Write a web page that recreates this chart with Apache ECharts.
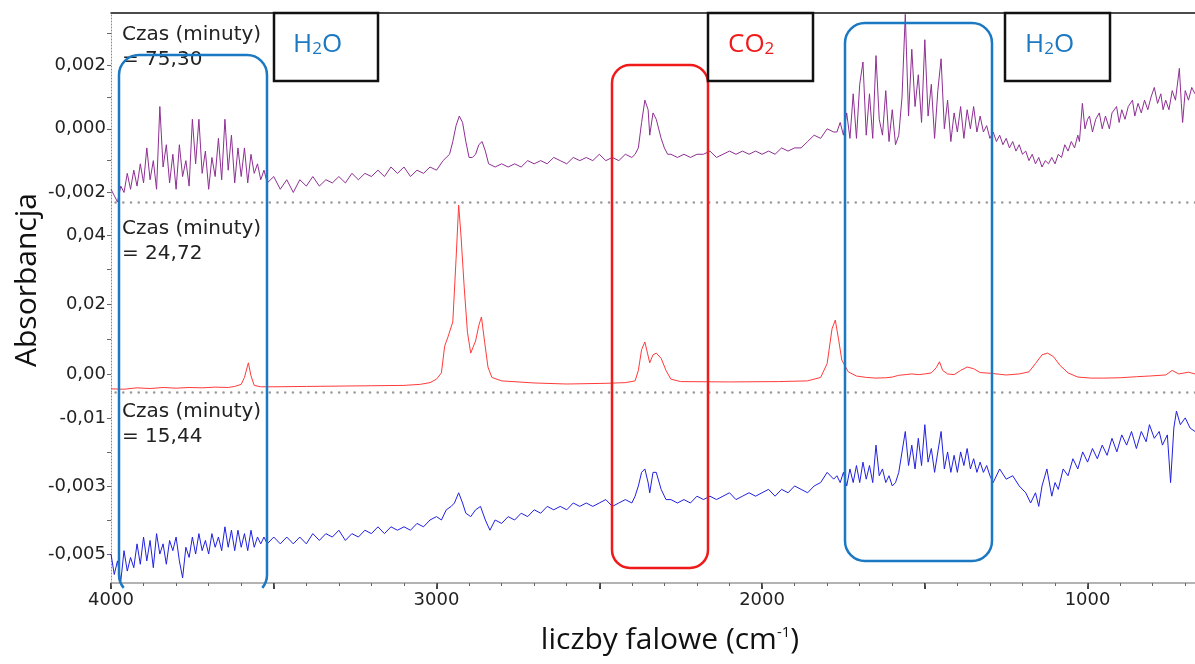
<!DOCTYPE html>
<html><head><meta charset="utf-8">
<script src="https://cdn.jsdelivr.net/npm/echarts@6/dist/echarts.min.js"></script>
<style>html,body{margin:0;padding:0;background:#fff}#c{width:1195px;height:664px}</style>
</head><body><div id="c"></div>
<script>
// ---- data: [wavenumber (cm-1), absorbance] ----
const purple7530 = [
[4000,-0.0019],[3990,-0.0021],[3980,-0.0023],[3970,-0.0018],[3960,-0.0020],[3950,-0.0014],[3940,-0.0019],[3930,-0.0013],[3920,-0.0018],[3910,-0.0011],
[3900,-0.0017],[3890,-0.0006],[3880,-0.0016],[3870,-0.0010],[3860,-0.0019],[3850,0.0007],[3840,-0.0012],[3830,-0.0005],[3820,-0.0017],[3810,-0.0008],
[3800,-0.0019],[3790,-0.0005],[3780,-0.0015],[3770,-0.0010],[3760,-0.0018],[3750,0.0003],[3740,-0.0011],[3730,0.0003],[3720,-0.0014],[3710,-0.0007],
[3700,-0.0019],[3690,-0.0009],[3680,-0.0015],[3670,-0.0003],[3660,-0.0016],[3650,0.0003],[3640,-0.0013],[3630,-0.0002],[3620,-0.0017],[3610,-0.0006],
[3600,-0.0015],[3590,-0.0006],[3580,-0.0017],[3570,-0.0008],[3560,-0.0014],[3550,-0.0011],[3540,-0.0016],[3530,-0.0013],[3520,-0.0017],
[3500,-0.0015],[3480,-0.0019],[3460,-0.0016],[3440,-0.0020],[3420,-0.0016],[3400,-0.0018],[3380,-0.0015],[3360,-0.0018],[3340,-0.0016],[3320,-0.0017],
[3300,-0.0015],[3280,-0.0017],[3260,-0.0014],[3240,-0.0016],[3220,-0.0014],[3200,-0.0015],[3180,-0.0013],[3160,-0.0015],[3140,-0.0012],[3120,-0.0014],
[3100,-0.0012],[3080,-0.0015],[3060,-0.0013],[3040,-0.0014],[3020,-0.0012],[3000,-0.0013],[2980,-0.0010],[2960,-0.0008],[2950,-0.0004],[2940,0.0001],
[2930,0.0004],[2920,0.0002],[2910,-0.0004],[2900,-0.0009],[2890,-0.0009],[2880,-0.0008],[2870,-0.0005],[2860,-0.0004],[2850,-0.0007],[2840,-0.0011],
[2820,-0.0012],[2800,-0.0011],[2780,-0.0012],[2760,-0.0011],[2740,-0.0012],[2720,-0.0010],[2700,-0.0011],[2680,-0.0010],[2660,-0.0011],[2640,-0.0009],
[2620,-0.0010],[2600,-0.0011],[2580,-0.0009],[2560,-0.0010],[2540,-0.0009],[2520,-0.0010],[2500,-0.0008],[2480,-0.0010],[2460,-0.0009],[2440,-0.0010],
[2420,-0.0008],[2400,-0.0009],[2390,-0.0008],[2380,-0.0006],[2370,0.0002],[2360,0.0009],[2350,0.0006],[2345,-0.0002],[2335,0.0005],[2325,0.0003],
[2310,-0.0003],[2300,-0.0006],[2290,-0.0008],[2280,-0.0008],[2260,-0.0009],[2240,-0.0008],[2220,-0.0009],[2200,-0.0008],[2180,-0.0008],[2160,-0.0007],
[2140,-0.0009],[2120,-0.0008],[2100,-0.0007],[2080,-0.0008],[2060,-0.0007],[2040,-0.0008],[2020,-0.0007],[2000,-0.0008],[1980,-0.0007],[1960,-0.0008],
[1940,-0.0006],[1920,-0.0007],[1900,-0.0006],[1880,-0.0006],[1860,-0.0004],[1840,-0.0002],[1820,-0.0003],[1800,0.0000],[1780,-0.0001],
[1770,-0.0001],[1760,0.0002],[1750,-0.0002],[1740,0.0005],[1730,-0.0003],[1720,0.0011],[1710,-0.0003],[1700,0.0014],[1690,0.0021],[1680,-0.0002],
[1670,0.0011],[1660,-0.0003],[1650,0.0023],[1640,0.0003],[1630,-0.0002],[1620,0.0012],[1610,-0.0004],[1600,0.0006],[1590,-0.0005],[1580,-0.0002],
[1570,0.0010],[1560,0.0036],[1550,0.0004],[1540,0.0025],[1530,0.0007],[1520,0.0017],[1510,0.0002],[1500,0.0028],[1490,0.0004],[1480,0.0014],
[1470,-0.0003],[1460,0.0012],[1450,0.0022],[1440,0.0000],[1430,0.0009],[1420,-0.0004],[1410,0.0005],[1400,-0.0001],[1390,0.0007],[1380,-0.0003],
[1370,0.0006],[1360,0.0000],[1350,0.0007],[1340,-0.0001],[1330,0.0004],[1320,-0.0001],[1310,0.0001],[1300,-0.0003],
[1290,-0.0001],[1280,-0.0004],[1270,-0.0002],[1260,-0.0005],[1250,-0.0003],[1240,-0.0006],[1230,-0.0004],[1220,-0.0007],[1210,-0.0005],[1200,-0.0008],
[1190,-0.0007],[1180,-0.0010],[1170,-0.0008],[1160,-0.0011],[1150,-0.0009],[1140,-0.0012],[1130,-0.0010],[1120,-0.0011],[1110,-0.0009],[1100,-0.0011],
[1090,-0.0008],[1080,-0.0009],[1070,-0.0005],[1060,-0.0007],[1050,-0.0004],[1040,-0.0006],[1030,-0.0002],[1025,-0.0004],[1016,0.0008],[1008,0.0000],
[1000,0.0003],[994,0.0004],[985,-0.0001],[975,0.0003],[964,0.0005],[955,0.0000],[945,0.0004],[933,0.0000],[925,0.0005],[911,0.0007],
[903,0.0002],[895,0.0006],[885,0.0003],[875,0.0007],[862,0.0009],[855,0.0004],[845,0.0008],[835,0.0005],[825,0.0009],[815,0.0006],
[805,0.0010],[795,0.0013],[785,0.0008],[775,0.0011],[768,0.0006],[760,0.0009],[750,0.0006],[740,0.0012],[730,0.0009],[718,0.0019],
[712,0.0008],[708,0.0002],[700,0.0012],[690,0.0009],[680,0.0013],[670,0.0011]
];
const red2472 = [
[4000,-0.0043],[3960,-0.0044],[3920,-0.0040],[3880,-0.0042],[3840,-0.0039],[3800,-0.0041],[3760,-0.0039],[3720,-0.0040],[3680,-0.0038],[3640,-0.0039],
[3620,-0.0036],[3600,-0.0030],[3590,-0.0010],[3578,0.0032],[3570,-0.0005],[3560,-0.0033],[3540,-0.0037],[3500,-0.0037],[3400,-0.0036],[3300,-0.0035],
[3200,-0.0034],[3100,-0.0033],[3050,-0.0030],[3020,-0.0025],[3000,-0.0015],[2985,0.0003],[2975,0.0080],[2965,0.0106],[2950,0.0150],[2940,0.0330],
[2932,0.0486],[2925,0.0400],[2915,0.0250],[2905,0.0120],[2895,0.0060],[2880,0.0095],[2870,0.0140],[2862,0.0164],[2852,0.0090],[2842,0.0020],
[2830,-0.0010],[2800,-0.0020],[2700,-0.0026],[2600,-0.0029],[2480,-0.0027],[2420,-0.0025],[2390,-0.0020],[2380,0.0010],[2370,0.0070],[2360,0.0092],
[2352,0.0060],[2345,0.0032],[2335,0.0055],[2325,0.0060],[2310,0.0045],[2295,0.0010],[2280,-0.0015],[2250,-0.0022],[2100,-0.0023],[1950,-0.0022],
[1860,-0.0020],[1820,-0.0010],[1800,0.0030],[1785,0.0130],[1775,0.0155],[1765,0.0100],[1755,0.0040],[1735,0.0006],[1710,-0.0006],[1680,-0.0010],
[1650,-0.0012],[1620,-0.0011],[1600,-0.0009],[1580,-0.0004],[1560,-0.0002],[1540,0.0000],[1520,-0.0002],[1500,0.0000],[1480,0.0003],[1465,0.0018],
[1455,0.0035],[1445,0.0010],[1430,0.0000],[1410,-0.0002],[1390,0.0010],[1370,0.0020],[1350,0.0015],[1330,0.0004],[1300,0.0002],[1250,-0.0003],
[1210,0.0000],[1180,0.0006],[1160,0.0030],[1140,0.0055],[1123,0.0060],[1105,0.0050],[1085,0.0025],[1060,0.0003],[1030,-0.0009],[990,-0.0012],
[950,-0.0012],[900,-0.0011],[850,-0.0008],[810,-0.0006],[760,-0.0003],[740,0.0010],[720,0.0000],[690,0.0005],[670,0.0000]
];
const blue1544 = [
[4000,-0.0050],[3990,-0.0056],[3980,-0.0052],[3970,-0.0058],[3960,-0.0049],[3950,-0.0055],[3940,-0.0051],[3930,-0.0054],[3920,-0.0047],[3910,-0.0053],
[3900,-0.0045],[3890,-0.0052],[3880,-0.0046],[3870,-0.0054],[3860,-0.0044],[3850,-0.0050],[3840,-0.0047],[3830,-0.0053],[3820,-0.0046],[3810,-0.0049],
[3800,-0.0045],[3790,-0.0052],[3780,-0.0057],[3770,-0.0048],[3760,-0.0051],[3750,-0.0045],[3740,-0.0050],[3730,-0.0044],[3720,-0.0049],[3710,-0.0046],
[3700,-0.0050],[3690,-0.0044],[3680,-0.0048],[3670,-0.0045],[3660,-0.0049],[3650,-0.0042],[3640,-0.0048],[3630,-0.0043],[3620,-0.0049],[3610,-0.0043],
[3600,-0.0048],[3590,-0.0044],[3580,-0.0049],[3570,-0.0043],[3560,-0.0048],[3550,-0.0045],[3540,-0.0047],[3530,-0.0045],[3520,-0.0047],
[3500,-0.0045],[3480,-0.0047],[3460,-0.0045],[3440,-0.0047],[3420,-0.0045],[3400,-0.0047],[3380,-0.0044],[3360,-0.0046],[3340,-0.0044],[3320,-0.0045],
[3300,-0.0043],[3280,-0.0046],[3260,-0.0044],[3240,-0.0045],[3220,-0.0043],[3200,-0.0044],[3180,-0.0042],[3160,-0.0044],[3140,-0.0042],[3120,-0.0043],
[3100,-0.0042],[3080,-0.0043],[3060,-0.0041],[3040,-0.0042],[3020,-0.0040],[3000,-0.0039],[2985,-0.0040],[2970,-0.0037],[2955,-0.0036],[2945,-0.0035],
[2932,-0.0032],[2920,-0.0035],[2910,-0.0038],[2895,-0.0039],[2880,-0.0037],[2865,-0.0036],[2850,-0.0040],[2836,-0.0043],[2820,-0.0040],[2800,-0.0041],
[2780,-0.0039],[2760,-0.0040],[2740,-0.0038],[2720,-0.0039],[2700,-0.0037],[2680,-0.0038],[2660,-0.0036],[2640,-0.0037],[2620,-0.0036],[2600,-0.0037],
[2580,-0.0035],[2560,-0.0036],[2540,-0.0035],[2520,-0.0036],[2500,-0.0035],[2480,-0.0034],[2460,-0.0036],[2440,-0.0035],[2420,-0.0034],[2400,-0.0035],
[2390,-0.0033],[2380,-0.0030],[2370,-0.0026],[2360,-0.0025],[2350,-0.0029],[2345,-0.0032],[2335,-0.0026],[2325,-0.0026],[2310,-0.0031],[2295,-0.0034],
[2280,-0.0034],[2260,-0.0035],[2240,-0.0034],[2220,-0.0035],[2200,-0.0033],[2180,-0.0034],[2160,-0.0033],[2140,-0.0034],[2120,-0.0033],[2100,-0.0032],
[2080,-0.0034],[2060,-0.0033],[2040,-0.0032],[2020,-0.0033],[2000,-0.0032],[1980,-0.0031],[1960,-0.0033],[1940,-0.0031],[1920,-0.0032],[1900,-0.0030],
[1880,-0.0031],[1860,-0.0032],[1840,-0.0030],[1820,-0.0029],[1800,-0.0026],[1780,-0.0028],[1770,-0.0027],
[1760,-0.0029],[1750,-0.0026],[1740,-0.0030],[1730,-0.0025],[1720,-0.0029],[1710,-0.0024],[1700,-0.0029],[1690,-0.0023],[1680,-0.0028],[1670,-0.0024],
[1660,-0.0029],[1650,-0.0018],[1640,-0.0027],[1630,-0.0025],[1620,-0.0029],[1610,-0.0027],[1600,-0.0030],[1590,-0.0029],[1580,-0.0026],[1570,-0.0020],
[1560,-0.0014],[1550,-0.0024],[1540,-0.0018],[1530,-0.0025],[1520,-0.0016],[1510,-0.0024],[1500,-0.0012],[1490,-0.0023],[1480,-0.0019],[1470,-0.0026],
[1460,-0.0020],[1450,-0.0014],[1440,-0.0025],[1430,-0.0020],[1420,-0.0026],[1410,-0.0021],[1400,-0.0026],[1390,-0.0020],[1380,-0.0024],[1370,-0.0019],
[1360,-0.0025],[1350,-0.0022],[1340,-0.0026],[1330,-0.0023],[1320,-0.0026],[1310,-0.0024],[1300,-0.0027],
[1290,-0.0029],[1270,-0.0025],[1250,-0.0028],[1230,-0.0027],[1210,-0.0030],[1190,-0.0032],[1175,-0.0035],[1160,-0.0032],[1150,-0.0036],[1140,-0.0030],
[1125,-0.0025],[1110,-0.0033],[1100,-0.0029],[1090,-0.0031],[1075,-0.0025],[1060,-0.0027],[1045,-0.0022],[1030,-0.0025],[1015,-0.0020],[1000,-0.0023],
[985,-0.0019],[970,-0.0022],[955,-0.0018],[940,-0.0021],[925,-0.0016],[910,-0.0020],[895,-0.0015],[880,-0.0018],[865,-0.0014],[850,-0.0019],
[835,-0.0014],[820,-0.0017],[810,-0.0012],[795,-0.0016],[780,-0.0014],[770,-0.0018],[755,-0.0015],[745,-0.0029],[735,-0.0013],[727,-0.0008],
[715,-0.0012],[700,-0.0010],[685,-0.0013],[670,-0.0014]
];

// ---- ticks / labels ----
const xMajorTicks = [4000,3500,3000,2500,2000,1500,1000];
const xLabelValues = [4000,3000,2000,1000];
const xMinorTicks = [4000,3900,3800,3700,3600,3500,3400,3300,3200,3100,3000,2900,2800,2700,2600,2500,2400,2300,2200,2100,2000,1900,1800,1700,1600,1500,1400,1300,1200,1100,1000,900,800,700];
const y1Ticks = [-0.002,-0.001,0,0.001,0.002,0.003];
const y1LabelValues = [-0.002,0,0.002];
const y1Labels = ['-0,002','0,000','0,002'];
const y2Ticks = [0,0.01,0.02,0.03,0.04];
const y2LabelValues = [0,0.02,0.04];
const y2Labels = ['0,00','0,02','0,04'];
const y3Ticks = [-0.005,-0.004,-0.003,-0.002,-0.001];
const y3LabelValues = [-0.005,-0.003,-0.001];
const y3Labels = ['-0,005','-0,003','-0,01'];
const timeLabels = ['Czas (minuty)\n= 75,30','Czas (minuty)\n= 24,72','Czas (minuty)\n= 15,44'];

const FONT = '"DejaVu Sans", Verdana, sans-serif';
const TFONT = '"Open Sans", sans-serif';
function fmt(vals, labels){
  return function(v){
    for (let i=0;i<vals.length;i++) if (Math.abs(v-vals[i])<1e-9) return labels[i];
    return '';
  };
}
const dotted = {show:true, onZero:false, lineStyle:{color:'#9a9a9a', width:2.6, type:[0.01,7.7], cap:'round'}};
function xBase(grid){ return {type:'value', gridIndex:grid, min:670, max:4000, inverse:true, splitLine:{show:false}}; }
function yAxisDef(grid, mn, mx, ticks, lv, labels){
  return {type:'value', gridIndex:grid, min:mn, max:mx, splitLine:{show:false},
    axisLine:{show:true, onZero:false, lineStyle:{color:'#8a8a8a', width:1, type:[1,2]}},
    axisTick:{show:true, customValues:ticks, length:4, lineStyle:{color:'#666'}},
    axisLabel:{customValues:lv, formatter:fmt(lv,labels), fontSize:18, fontFamily:FONT, color:'#222', margin:5}};
}
const BLUE = '#1b78c2', RED = '#f01a1a';
function line(pts, color){ return {type:'polyline', z:60, shape:{points:pts}, style:{fill:null, stroke:color, lineWidth:2.5}}; }
function arc(cx, cy, r, a0, a1, color){ return {type:'arc', z:60, shape:{cx:cx, cy:cy, r:r, startAngle:a0, endAngle:a1, clockwise:true}, style:{fill:null, stroke:color, lineWidth:2.5}}; }
function sub(x, t1, s, t2, color){
  return {type:'text', x:x, y:45, z:70, style:{text:t1+'{s|'+s+'}'+t2, fill:color, font:'26px '+TFONT, verticalAlign:'middle',
    rich:{s:{fontSize:17, fontFamily:TFONT, fill:color, verticalAlign:'bottom'}}}};
}

const chart = echarts.init(document.getElementById('c'), null, {renderer:'canvas'});
const option = {
  animation:false,
  backgroundColor:'#fff',
  grid:[
    {left:111, right:0, top:13, height:189},
    {left:111, right:0, top:202, height:190},
    {left:111, right:0, top:392, height:191}
  ],
  xAxis:[
    Object.assign(xBase(0), {position:'bottom', axisLine:dotted, axisTick:{show:false}, axisLabel:{show:false}}),
    Object.assign(xBase(0), {position:'top', axisLine:{show:true, onZero:false, lineStyle:{color:'#111', width:1.5}}, axisTick:{show:false}, axisLabel:{show:false}}),
    Object.assign(xBase(1), {position:'bottom', axisLine:dotted, axisTick:{show:false}, axisLabel:{show:false}}),
    Object.assign(xBase(2), {position:'bottom',
      axisLine:{show:true, onZero:false, lineStyle:{color:'#9a9a9a', width:1.5}},
      axisTick:{show:true, customValues:xMajorTicks, length:6, lineStyle:{color:'#444', width:2}},
      axisLabel:{customValues:xLabelValues, formatter:function(v){ return String(v); }, fontSize:18, fontFamily:FONT, color:'#222', margin:8}}),
    Object.assign(xBase(2), {position:'bottom', axisLine:{show:false, onZero:false},
      axisTick:{show:true, customValues:xMinorTicks, length:3, lineStyle:{color:'#666'}}, axisLabel:{show:false}})
  ],
  yAxis:[
    yAxisDef(0, -0.0023, 0.00364, y1Ticks, y1LabelValues, y1Labels),
    yAxisDef(1, -0.0052, 0.0495, y2Ticks, y2LabelValues, y2Labels),
    yAxisDef(2, -0.00585, -0.00024, y3Ticks, y3LabelValues, y3Labels)
  ],
  series:[
    {type:'line', xAxisIndex:0, yAxisIndex:0, data:purple7530, showSymbol:false, lineStyle:{color:'#8e2f93', width:1}, clip:true},
    {type:'line', xAxisIndex:2, yAxisIndex:1, data:red2472, showSymbol:false, lineStyle:{color:'#ff3a3a', width:1}, clip:true},
    {type:'line', xAxisIndex:3, yAxisIndex:2, data:blue1544, showSymbol:false, lineStyle:{color:'#2020e0', width:1}, clip:true}
  ],
  graphic:[
    {type:'text', x:122, y:22, z:50, style:{text:timeLabels[0], font:'20px '+FONT, lineHeight:25, fill:'#222'}},
    {type:'text', x:122, y:216, z:50, style:{text:timeLabels[1], font:'20px '+FONT, lineHeight:25, fill:'#222'}},
    {type:'text', x:122, y:399, z:50, style:{text:timeLabels[2], font:'20px '+FONT, lineHeight:25, fill:'#222'}},
    // left blue box (bottom clipped)
    line([[119,575],[119,75]], BLUE),
    arc(139,75,20,Math.PI,1.5*Math.PI,BLUE),
    line([[139,55],[247,55]], BLUE),
    arc(247,75,20,1.5*Math.PI,2*Math.PI,BLUE),
    line([[267,75],[267,575]], BLUE),
    arc(247,575,20,0,0.70,BLUE),
    arc(139,575,20,2.44,Math.PI,BLUE),
    // red box
    {type:'rect', z:60, shape:{x:612, y:65, width:96, height:503, r:18}, style:{fill:null, stroke:RED, lineWidth:2.5}},
    // right blue box
    {type:'rect', z:60, shape:{x:845, y:23, width:147, height:538, r:20}, style:{fill:null, stroke:BLUE, lineWidth:2.5}},
    // black label boxes
    {type:'rect', z:60, shape:{x:274, y:13, width:104, height:68}, style:{fill:'#fff', stroke:'#111', lineWidth:2.5}},
    {type:'rect', z:60, shape:{x:708, y:13, width:105, height:68}, style:{fill:'#fff', stroke:'#111', lineWidth:2.5}},
    {type:'rect', z:60, shape:{x:1005, y:13, width:105, height:68}, style:{fill:'#fff', stroke:'#111', lineWidth:2.5}},
    sub(293,'H','2','O',BLUE),
    sub(728,'CO','2','',RED),
    sub(1025,'H','2','O',BLUE),
    // axis titles
    {type:'text', x:27, y:280, rotation:Math.PI/2, z:50, style:{text:'Absorbancja', font:'30px '+TFONT, fill:'#111', align:'center', verticalAlign:'middle'}},
    {type:'text', x:670, y:640, z:50, style:{text:'liczby falowe (cm{p|-1})', font:'30px '+TFONT, fill:'#111', align:'center', verticalAlign:'middle',
      rich:{p:{fontSize:15, fontFamily:TFONT, fill:'#111', verticalAlign:'top'}}}}
  ]
};
chart.setOption(option);
</script>
</body></html>
